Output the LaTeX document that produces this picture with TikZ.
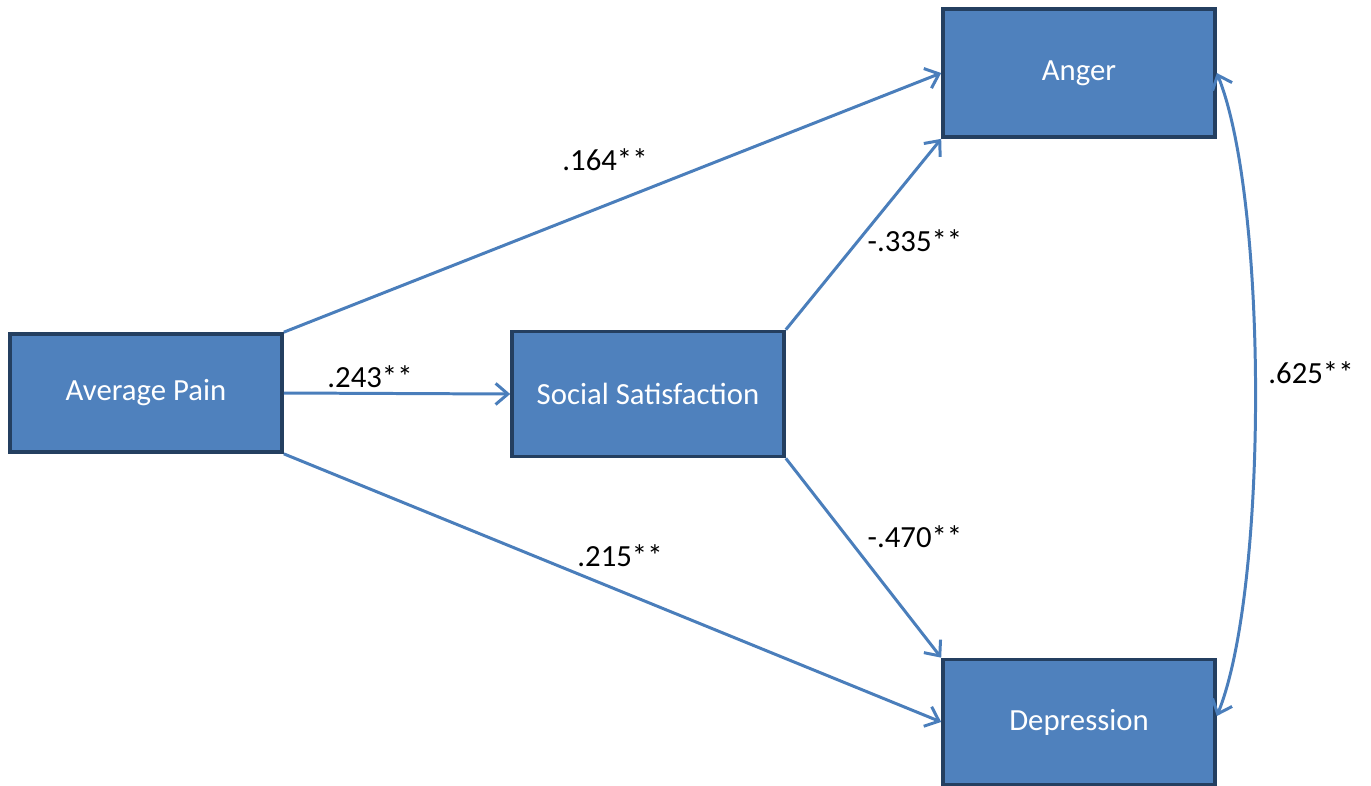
\documentclass[tikz,border=0pt]{standalone}
\usepackage{fontspec}
\setmainfont{Carlito}
\usetikzlibrary{arrows.meta}
\definecolor{boxfill}{HTML}{4F81BD}
\definecolor{boxline}{HTML}{243F60}
\definecolor{arrowblue}{HTML}{4A7EBB}
\begin{document}
\begin{tikzpicture}[x=0.02cm,y=-0.02cm,
  varbox/.style={draw=boxline, fill=boxfill, line width=2.1pt, minimum width=5.44cm, minimum height=2.5cm, text=white, font=\fontsize{17.5}{21}\selectfont, inner sep=0pt},
  path/.style={draw=arrowblue, line width=1.7pt, -{Straight Barb[length=7pt,width=12pt,line width=1.7pt]}},
  coef/.style={font=\fontsize{17.5}{21}\selectfont, text=black}]
\useasboundingbox (0,0) rectangle (1371,785);
\node[varbox, minimum height=2.36cm] (pain) at (146,393) {Average Pain};
\node[varbox] (soc) at (648,394) {Social Satisfaction};
\node[varbox, minimum height=2.56cm] (anger) at (1079,73) {Anger};
\node[varbox] (dep) at (1079,722) {Depression};
\draw[path] (pain.north east) -- (anger.west);
\draw[path] (pain.east) -- (soc.west);
\draw[path] (pain.south east) -- (dep.west);
\draw[path] (soc.north east) -- (anger.south west);
\draw[path] (soc.south east) -- (dep.north west);
\draw[path, {Straight Barb[length=7pt,width=12pt,line width=1.7pt]}-{Straight Barb[length=7pt,width=12pt,line width=1.7pt]}] (anger.east) .. controls (1268,200) and (1268,590) .. ([yshift=0.12cm]dep.east);
\node[coef] (c1) at (605,160) {.164**};
\node[coef] (c2) at (370,377) {.243**};
\node[coef] (c3) at (620,556) {.215**};
\node[coef] (c4) at (915,241) {-.335**};
\node[coef] (c5) at (915,537) {-.470**};
\node[coef] (c6) at (1311,373) {.625**};
\end{tikzpicture}
\end{document}
